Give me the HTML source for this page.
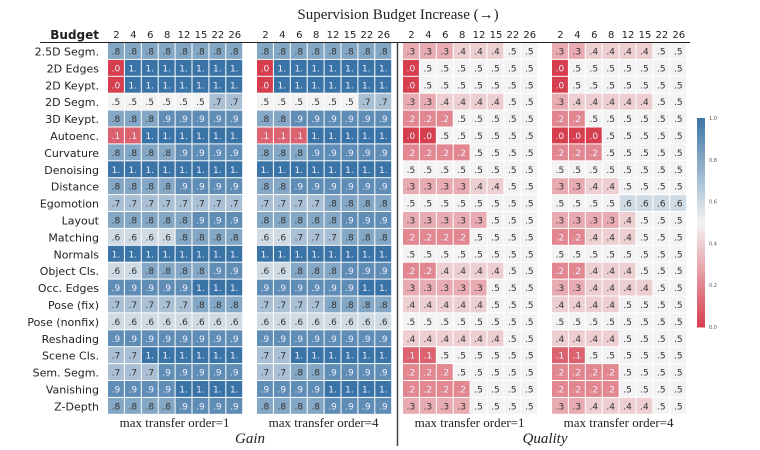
<!DOCTYPE html>
<html><head><meta charset="utf-8"><style>
body{margin:0;background:#fff;}
svg{display:block;}
</style></head><body>
<svg id="chart" width="760" height="450" xmlns="http://www.w3.org/2000/svg"></svg>
<script>
const rowLabels=["2.5D Segm.","2D Edges","2D Keypt.","2D Segm.","3D Keypt.","Autoenc.","Curvature","Denoising","Distance","Egomotion","Layout","Matching","Normals","Object Cls.","Occ. Edges","Pose (fix)","Pose (nonfix)","Reshading","Scene Cls.","Sem. Segm.","Vanishing","Z-Depth"];
const budgets=["2","4","6","8","12","15","22","26"];
const gainOrder1=[
[.8,.8,.8,.8,.8,.8,.8,.8],[0,1,1,1,1,1,1,1],[0,1,1,1,1,1,1,1],[.5,.5,.5,.5,.5,.5,.7,.7],
[.8,.8,.8,.9,.9,.9,.9,.9],[.1,.1,1,1,1,1,1,1],[.8,.8,.8,.8,.9,.9,.9,.9],[1,1,1,1,1,1,1,1],
[.8,.8,.8,.8,.9,.9,.9,.9],[.7,.7,.7,.7,.7,.7,.7,.7],[.8,.8,.8,.8,.8,.9,.9,.9],[.6,.6,.6,.6,.8,.8,.8,.8],
[1,1,1,1,1,1,1,1],[.6,.6,.8,.8,.8,.8,.9,.9],[.9,.9,.9,.9,.9,1,1,1],[.7,.7,.7,.7,.7,.8,.8,.8],
[.6,.6,.6,.6,.6,.6,.6,.6],[.9,.9,.9,.9,.9,.9,.9,.9],[.7,.7,1,1,1,1,1,1],[.7,.7,.7,.9,.9,.9,.9,.9],
[.9,.9,.9,.9,1,1,1,1],[.8,.8,.8,.8,.9,.9,.9,.9]];
const gainOrder4=[
[.8,.8,.8,.8,.8,.8,.8,.8],[0,1,1,1,1,1,1,1],[0,1,1,1,1,1,1,1],[.5,.5,.5,.5,.5,.5,.7,.7],
[.8,.8,.9,.9,.9,.9,.9,.9],[.1,.1,.1,1,1,1,1,1],[.8,.8,.8,.9,.9,.9,.9,.9],[1,1,1,1,1,1,1,1],
[.8,.8,.9,.9,.9,.9,.9,.9],[.7,.7,.7,.7,.8,.8,.8,.8],[.8,.8,.8,.8,.8,.9,.9,.9],[.6,.6,.7,.7,.7,.8,.8,.8],
[1,1,1,1,1,1,1,1],[.6,.6,.8,.8,.8,.9,.9,.9],[.9,.9,.9,.9,.9,.9,1,1],[.7,.7,.7,.7,.8,.8,.8,.8],
[.6,.6,.6,.6,.6,.6,.6,.6],[.9,.9,.9,.9,.9,.9,.9,.9],[.7,.7,1,1,1,1,1,1],[.7,.7,.8,.8,.9,.9,.9,.9],
[.9,.9,.9,.9,1,1,1,1],[.8,.8,.8,.8,.9,.9,.9,.9]];
const qualityOrder1=[
[.3,.3,.3,.4,.4,.4,.5,.5],[0,.5,.5,.5,.5,.5,.5,.5],[0,.5,.5,.5,.5,.5,.5,.5],[.3,.3,.4,.4,.4,.4,.5,.5],
[.2,.2,.2,.5,.5,.5,.5,.5],[0,0,.5,.5,.5,.5,.5,.5],[.2,.2,.2,.2,.5,.5,.5,.5],[.5,.5,.5,.5,.5,.5,.5,.5],
[.3,.3,.3,.3,.4,.4,.5,.5],[.5,.5,.5,.5,.5,.5,.5,.5],[.3,.3,.3,.3,.3,.5,.5,.5],[.2,.2,.2,.2,.5,.5,.5,.5],
[.5,.5,.5,.5,.5,.5,.5,.5],[.2,.2,.4,.4,.4,.4,.5,.5],[.3,.3,.3,.3,.3,.5,.5,.5],[.4,.4,.4,.4,.4,.5,.5,.5],
[.5,.5,.5,.5,.5,.5,.5,.5],[.4,.4,.4,.4,.4,.4,.5,.5],[.1,.1,.5,.5,.5,.5,.5,.5],[.2,.2,.2,.5,.5,.5,.5,.5],
[.2,.2,.2,.2,.5,.5,.5,.5],[.3,.3,.3,.3,.5,.5,.5,.5]];
const qualityOrder4=[
[.3,.3,.4,.4,.4,.4,.5,.5],[0,.5,.5,.5,.5,.5,.5,.5],[0,.5,.5,.5,.5,.5,.5,.5],[.3,.4,.4,.4,.4,.4,.5,.5],
[.2,.2,.5,.5,.5,.5,.5,.5],[0,0,0,.5,.5,.5,.5,.5],[.2,.2,.2,.5,.5,.5,.5,.5],[.5,.5,.5,.5,.5,.5,.5,.5],
[.3,.3,.4,.4,.5,.5,.5,.5],[.5,.5,.5,.5,.6,.6,.6,.6],[.3,.3,.3,.3,.4,.5,.5,.5],[.2,.2,.4,.4,.4,.5,.5,.5],
[.5,.5,.5,.5,.5,.5,.5,.5],[.2,.2,.4,.4,.4,.5,.5,.5],[.3,.3,.4,.4,.4,.4,.5,.5],[.4,.4,.4,.4,.5,.5,.5,.5],
[.5,.5,.5,.5,.5,.5,.5,.5],[.4,.4,.4,.4,.5,.5,.5,.5],[.1,.1,.5,.5,.5,.5,.5,.5],[.2,.2,.2,.2,.5,.5,.5,.5],
[.2,.2,.2,.2,.5,.5,.5,.5],[.3,.3,.4,.4,.4,.4,.5,.5]];
const colorbarTicks=["0.0","0.2","0.4","0.6","0.8","1.0"];
const panelData=[gainOrder1,gainOrder4,qualityOrder1,qualityOrder4];
const panelNames=["gain-order1","gain-order4","quality-order1","quality-order4"];

const NS="http://www.w3.org/2000/svg";
const svg=document.getElementById("chart");
const panelX=[108,257,403,552], cellW=16.9, gridTop=43, rowH=16.9;
function xPos(p,j){return panelX[p]+j*cellW;}
function yPos(i){return gridTop+i*rowH;}
function lerp(a,b,t){return a.map((v,k)=>Math.round(v+(b[k]-v)*t));}
const RED=[214,62,78],MID=[243,243,243],BLUE=[58,116,166];
function color(v){const c=v<0.5?lerp(RED,MID,v/0.5):lerp(MID,BLUE,(v-0.5)/0.5);return `rgb(${c[0]},${c[1]},${c[2]})`;}
function label(v){if(v>=1)return "1.";return "."+Math.round(v*10);}
function mk(tag,attrs,text){const e=document.createElementNS(NS,tag);for(const k in attrs)e.setAttribute(k,attrs[k]);if(text!==undefined)e.textContent=text;svg.appendChild(e);return e;}

let t=mk("text",{x:398,y:19,"text-anchor":"middle","font-family":"Liberation Serif, serif","font-size":15,fill:"#222"},"Supervision Budget Increase (\u2192)");


t=mk("text",{x:99,y:39,"text-anchor":"end","font-family":"DejaVu Sans, sans-serif","font-size":12,"font-weight":"bold",fill:"#222"},"Budget");


let ln=mk("line",{x1:40,y1:42.5,x2:690,y2:42.5,stroke:"#222","stroke-width":1});


ln=mk("line",{x1:397.5,y1:42,x2:397.5,y2:446,stroke:"#444","stroke-width":1.5});



rowLabels.forEach((r,i)=>{
  const e=mk("text",{x:99,y:yPos(i)+rowH/2+4,"text-anchor":"end","font-family":"DejaVu Sans, sans-serif","font-size":11,fill:"#222"},r);
  
  
});
for(let p=0;p<4;p++){
  budgets.forEach((b,j)=>{
    const e=mk("text",{x:xPos(p,j)+cellW/2,y:38,"text-anchor":"middle","font-family":"DejaVu Sans, sans-serif","font-size":10,fill:"#222"},b);
    
    
  });
  const d=panelData[p];
  d.forEach((row,i)=>row.forEach((v,j)=>{
    const r=mk("rect",{x:xPos(p,j),y:yPos(i),width:cellW-1,height:rowH-1,fill:color(v)});
    
    
    const light=(v<=0.2||v>=0.9);
    const tx=mk("text",{x:xPos(p,j)+cellW/2-0.5,y:yPos(i)+rowH/2+3,"text-anchor":"middle","font-family":"DejaVu Sans, sans-serif","font-size":9,fill:light?"#eef":"#333"},label(v));
    
    
  }));
  const s=mk("text",{x:xPos(p,4)-1,y:427,"text-anchor":"middle","font-family":"Liberation Serif, serif","font-size":13,fill:"#222"},"max transfer order="+(p%2===0?1:4));
  
  
}
t=mk("text",{x:250,y:443,"text-anchor":"middle","font-family":"Liberation Serif, serif","font-size":15,"font-style":"italic",fill:"#222"},"Gain");


t=mk("text",{x:545,y:443,"text-anchor":"middle","font-family":"Liberation Serif, serif","font-size":15,"font-style":"italic",fill:"#222"},"Quality");



const cbTop=118,cbBot=327,cbX=697,cbW=8,steps=60;
for(let k=0;k<steps;k++){
  const v=1-k/steps;
  const r=mk("rect",{x:cbX,y:cbTop+k*(cbBot-cbTop)/steps,width:cbW,height:(cbBot-cbTop)/steps+0.5,fill:color(v-0.5/steps)});
  
  
}
colorbarTicks.forEach(l=>{
  const v=parseFloat(l);
  const e=mk("text",{x:cbX+cbW+4,y:cbBot-v*(cbBot-cbTop)+2,"font-family":"DejaVu Sans, sans-serif","font-size":5,fill:"#555"},l);
  
  
});
</script>
</body></html>
